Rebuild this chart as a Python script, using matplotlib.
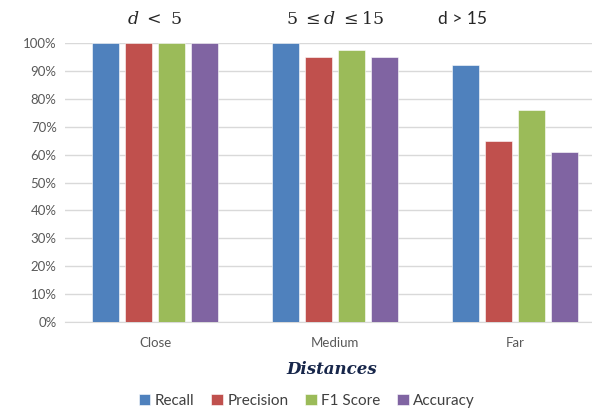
import numpy as np
import matplotlib.pyplot as plt
from matplotlib.ticker import PercentFormatter

categories = ['Close', 'Medium', 'Far']
metrics = ['Recall', 'Precision', 'F1 Score', 'Accuracy']
recall = [100, 100, 92]
precision = [100, 95, 65]
f1_score = [100, 97.5, 76]
accuracy = [100, 95, 61]
colors = ['#4F81BD', '#C0504D', '#9BBB59', '#8064A2']

plt.rcParams['font.family'] = ['Lato', 'DejaVu Sans']

fig = plt.figure(figsize=(5.92, 4.13), dpi=100)
ax = fig.add_axes([65 / 592, 91 / 413, 540 / 592, 279 / 413])

x = np.arange(len(categories))
width = 0.15
step = 0.183
series = [recall, precision, f1_score, accuracy]
for i, (vals, name, c) in enumerate(zip(series, metrics, colors)):
    ax.bar(x + (i - 1.5) * step, vals, width, color=c, label=name,
           edgecolor='white', linewidth=0.4, zorder=3)

ax.set_xlim(-0.5, 2.5)
ax.set_ylim(0, 100)
ax.set_yticks(range(0, 101, 10))
ax.yaxis.set_major_formatter(PercentFormatter(decimals=0))
ax.grid(axis='y', color='#D9D9D9', linewidth=1, zorder=0)
ax.set_xticks(x)
ax.set_xticklabels(categories)
ax.tick_params(axis='both', length=0, labelsize=9.5, colors='#595959', pad=6)
ax.tick_params(axis='x', pad=11)
for s in ['top', 'right', 'left']:
    ax.spines[s].set_visible(False)
ax.spines['bottom'].set_color('#D9D9D9')

# range headers above each group
fig.text(155 / 592, 1 - 19 / 413, r'$d\ <\ 5$', ha='center', va='center',
         fontsize=12.5, color='#262626', math_fontfamily='dejavuserif')
fig.text(335 / 592, 1 - 19 / 413, r'$5\ \leq d\ \leq 15$', ha='center', va='center',
         fontsize=12.5, color='#262626', math_fontfamily='dejavuserif')
fig.text(463 / 592, 1 - 19 / 413, 'd > 15', ha='center', va='center',
         fontsize=12.5, color='#262626')

fig.text(332 / 592, 1 - 370 / 413, 'Distances', ha='center', va='center',
         fontsize=12, fontstyle='italic', fontweight='bold',
         family='DejaVu Serif', color='#17264A')

fig.legend(loc='center', bbox_to_anchor=(307 / 592, 1 - 401 / 413), ncol=4,
           frameon=False, fontsize=11, handlelength=0.75, handleheight=0.75,
           handletextpad=0.3, columnspacing=1.1, labelcolor='#404040')

fig.savefig('out.png', dpi=100)
